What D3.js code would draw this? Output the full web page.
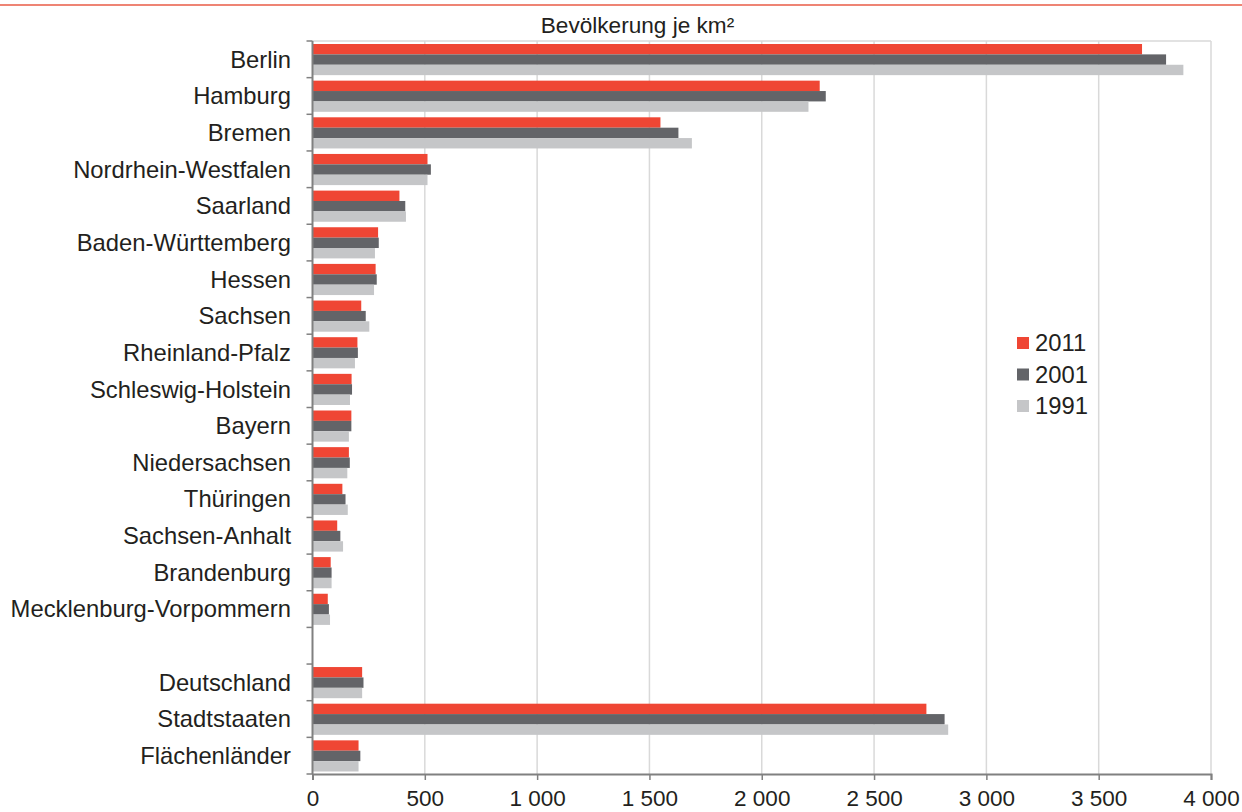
<!DOCTYPE html>
<html><head><meta charset="utf-8">
<script src="https://cdn.jsdelivr.net/npm/d3@7"></script>
<style>body{margin:0;background:#fff}svg{display:block}text{font-family:"Liberation Sans",Arial,sans-serif;fill:#231f20}</style>
</head><body><svg id="c" width="1242" height="812"></svg>
<script>
const categories = ["Berlin","Hamburg","Bremen","Nordrhein-Westfalen","Saarland","Baden-Württemberg","Hessen","Sachsen","Rheinland-Pfalz","Schleswig-Holstein","Bayern","Niedersachsen","Thüringen","Sachsen-Anhalt","Brandenburg","Mecklenburg-Vorpommern","","Deutschland","Stadtstaaten","Flächenländer"];
const series = ["2011","2001","1991"];
const v2011 = [3693,2258,1549,512,387,292,281,217,200,174,173,162,133,110,81,68,null,221,2733,205];
const v2001 = [3800,2285,1629,527,413,295,286,237,202,176,173,166,147,124,85,73,null,227,2814,213];
const v1991 = [3877,2208,1689,512,416,278,274,253,189,167,162,155,157,136,85,78,null,221,2830,205];
const xTicks = [0,500,1000,1500,2000,2500,3000,3500,4000];
const xTickLabels = ["0","500","1 000","1 500","2 000","2 500","3 000","3 500","4 000"];
const title = "Bevölkerung je km²";
const colors = ["#ef4634","#636468","#c5c6c8"];

const svg = d3.select("#c");
const L=312.5, R=1211, T=41, B=774;
const x = d3.scaleLinear().domain([0,4000]).range([L,R]);
const y = d3.scaleBand().domain(d3.range(categories.length)).range([T,B]).paddingInner(0).paddingOuter(0);
const inner = d3.scaleBand().domain(series).range([3, y.bandwidth()-2.5]).padding(0);

// top decorative line
svg.append("line").attr("x1",0).attr("x2",1242).attr("y1",5).attr("y2",5).attr("stroke","#ee8474").attr("stroke-width",2);

// gridlines
svg.append("g").selectAll("line").data(xTicks.slice(1)).join("line")
  .attr("x1",d=>x(d)).attr("x2",d=>x(d)).attr("y1",T).attr("y2",B)
  .attr("stroke","#d9d9d9").attr("stroke-width",1.5);
svg.append("line").attr("x1",L).attr("x2",R).attr("y1",T).attr("y2",T).attr("stroke","#d9d9d9").attr("stroke-width",1.5);

// bars
const data = [v2011,v2001,v1991];
series.forEach((s,si)=>{
  svg.append("g").selectAll("rect").data(data[si].map((v,i)=>({v,i}))).join("rect")
    .filter(d=>d.v!=null)
    .attr("x",x(0)).attr("y",d=>y(d.i)+inner(s)).attr("height",inner.bandwidth())
    .attr("width",d=>x(d.v)-x(0)).attr("fill",colors[si]);
});

// left axis
const ya = svg.append("g").attr("transform",`translate(${L},0)`);
ya.append("line").attr("x1",0).attr("x2",0).attr("y1",T).attr("y2",B).attr("stroke","#808080").attr("stroke-width",2);
ya.selectAll("line.t").data(d3.range(categories.length+1)).join("line").attr("class","t")
  .attr("x1",-6).attr("x2",0).attr("y1",d=>T+d*y.step()).attr("y2",d=>T+d*y.step()).attr("stroke","#808080").attr("stroke-width",1.5);
svg.append("g").selectAll("text").data(categories).join("text")
  .attr("x",291).attr("y",(d,i)=>y(i)+y.bandwidth()/2).attr("dy","0.35em")
  .attr("text-anchor","end").attr("font-size",23.8).text(d=>d);

// bottom axis
const xa = svg.append("g").attr("transform",`translate(0,${B})`)
  .call(d3.axisBottom(x).tickValues(xTicks).tickFormat((d,i)=>xTickLabels[i]).tickSize(6).tickPadding(10));
xa.select(".domain").attr("stroke","#808080").attr("stroke-width",2);
xa.selectAll(".tick line").attr("stroke","#808080").attr("stroke-width",1.5);
xa.selectAll(".tick text").attr("font-size",22.5).attr("fill","#231f20").attr("font-family","Liberation Sans, Arial, sans-serif");

// title
svg.append("text").attr("x",637.5).attr("y",33).attr("text-anchor","middle").attr("font-size",22.6).text(title);

// legend
const lg = svg.append("g").attr("transform","translate(1017,343)");
series.forEach((s,i)=>{
  lg.append("rect").attr("x",0).attr("y",i*31.5-6).attr("width",12).attr("height",12).attr("fill",colors[i]);
  lg.append("text").attr("x",18).attr("y",i*31.5).attr("dy","0.35em").attr("font-size",23.8).text(s);
});
</script></body></html>
